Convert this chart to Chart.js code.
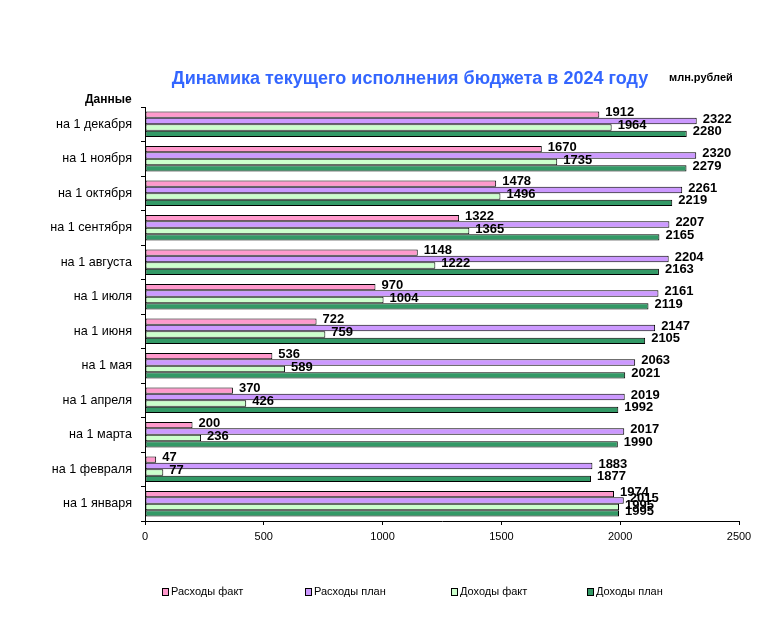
<!DOCTYPE html>
<html>
<head>
<meta charset="utf-8">
<script src="https://cdn.jsdelivr.net/npm/chart.js@4"></script>
<style>
  body { margin: 0; background: #fff; }
  canvas { display: block; }
</style>
</head>
<body>
<canvas id="grafico" width="779" height="636"></canvas>
<script>
// categorias de arriba hacia abajo
var categorias = ['на 1 декабря', 'на 1 ноября', 'на 1 октября', 'на 1 сентября', 'на 1 августа', 'на 1 июля',
    'на 1 июня', 'на 1 мая', 'на 1 апреля', 'на 1 марта', 'на 1 февраля', 'на 1 января'];
var rashodyFakt = [1912, 1670, 1478, 1322, 1148, 970, 722, 536, 370, 200, 47, 1974];
var rashodyPlan = [2322, 2320, 2261, 2207, 2204, 2161, 2147, 2063, 2019, 2017, 1883, 2015];
var dohodyFakt = [1964, 1735, 1496, 1365, 1222, 1004, 759, 589, 426, 236, 77, 1995];
var dohodyPlan = [2280, 2279, 2219, 2165, 2163, 2119, 2105, 2021, 1992, 1990, 1877, 1995];
var ticksX = [0, 500, 1000, 1500, 2000, 2500];

var nombresSeries = ['Расходы факт', 'Расходы план', 'Доходы факт', 'Доходы план'];
var colores = ['#ff99cc', '#cc99ff', '#ccffcc', '#339966'];

var fuente = '"Liberation Sans", Arial, sans-serif';

// etiquetas de valores al final de cada barra
var etiquetasPlugin = {
    id: 'etiquetas',
    afterDatasetsDraw: function (chart) {
        var ctx = chart.ctx;
        ctx.save();
        ctx.font = 'bold 13px ' + fuente;
        ctx.fillStyle = '#000';
        ctx.textBaseline = 'middle';
        ctx.textAlign = 'left';
        chart.data.datasets.forEach(function (ds, i) {
            var meta = chart.getDatasetMeta(i);
            meta.data.forEach(function (bar, j) {
                ctx.fillText(String(ds.data[j]), bar.x + 6, bar.y - 2);
            });
        });
        ctx.restore();
    }
};

// titulo, unidades, leyenda
var textosPlugin = {
    id: 'textos',
    afterDraw: function (chart) {
        var ctx = chart.ctx;
        ctx.save();
        ctx.textBaseline = 'middle';
        ctx.fillStyle = '#3366ff';
        ctx.font = 'bold 18px ' + fuente;
        ctx.textAlign = 'center';
        ctx.fillText('Динамика текущего исполнения бюджета в 2024 году', 410, 79);
        ctx.fillStyle = '#000';
        ctx.font = 'bold 11px ' + fuente;
        ctx.textAlign = 'left';
        ctx.fillText('млн.рублей', 669, 78);
        ctx.font = 'bold 12px ' + fuente;
        ctx.fillText('Данные', 85, 100);

        var posX = [162, 305, 451, 587];
        ctx.font = '11px ' + fuente;
        for (var i = 0; i < nombresSeries.length; i++) {
            ctx.fillStyle = colores[i];
            ctx.fillRect(posX[i], 588, 6, 7);
            ctx.strokeStyle = '#000';
            ctx.lineWidth = 1;
            ctx.strokeRect(posX[i] + 0.5, 588.5, 6, 7);
            ctx.fillStyle = '#000';
            ctx.fillText(nombresSeries[i], posX[i] + 9, 592);
        }
        ctx.restore();
    }
};

var datos = [rashodyFakt, rashodyPlan, dohodyFakt, dohodyPlan];

new Chart(document.getElementById('grafico').getContext('2d'), {
    type: 'bar',
    data: {
        labels: categorias,
        datasets: nombresSeries.map(function (n, i) {
            return {
                label: n,
                data: datos[i],
                backgroundColor: colores[i],
                borderColor: '#000',
                borderWidth: 1,
                borderSkipped: false
            };
        })
    },
    options: {
        indexAxis: 'y',
        responsive: false,
        animation: false,
        categoryPercentage: 0.74,
        barPercentage: 1,
        layout: { padding: { left: 0, top: 107, right: 40, bottom: 85 } },
        plugins: {
            legend: { display: false },
            tooltip: { enabled: false }
        },
        scales: {
            x: {
                min: 0,
                max: 2500,
                afterFit: function (s) { s.height = 30; },
                afterBuildTicks: function (s) { s.ticks = ticksX.map(function (v) { return { value: v }; }); },
                border: { color: '#000', width: 1 },
                grid: { drawOnChartArea: false, drawTicks: true, tickLength: 4, color: '#000' },
                ticks: {
                    color: '#000', font: { family: fuente, size: 11 }, padding: 5,
                    callback: function (v) { return String(v); }
                }
            },
            y: {
                afterFit: function (s) { s.width = 145; },
                border: { color: '#000', width: 1 },
                grid: { drawOnChartArea: false, drawTicks: true, tickLength: 4, color: '#000' },
                ticks: { color: '#000', font: { family: fuente, size: 12.6 }, padding: 9 }
            }
        }
    },
    plugins: [etiquetasPlugin, textosPlugin]
});
</script>
</body>
</html>
